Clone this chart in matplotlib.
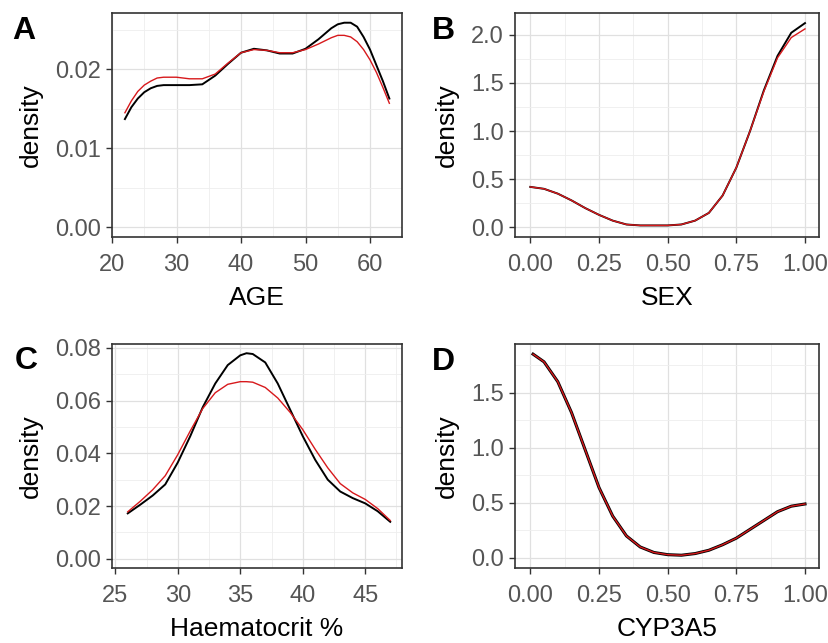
import numpy as np
import matplotlib
matplotlib.use("Agg")
import matplotlib.pyplot as plt
from matplotlib.ticker import FormatStrFormatter, MultipleLocator

# panel A - AGE
age_x = [22, 23, 24, 25, 26, 27, 28, 30, 32, 34, 36, 38, 40, 42, 44, 46, 48,
         50, 52, 54, 55, 56, 57, 58, 59, 60, 61, 62, 63]
age_black = [0.0137, 0.0152, 0.0163, 0.0171, 0.0176, 0.0179, 0.0180, 0.0180,
             0.0180, 0.0181, 0.0192, 0.0207, 0.0221, 0.0226, 0.0224, 0.0220,
             0.0220, 0.0226, 0.0238, 0.0252, 0.0257, 0.0259, 0.0259, 0.0254,
             0.0241, 0.0225, 0.0205, 0.0185, 0.0163]
age_red = [0.0145, 0.0160, 0.0172, 0.0180, 0.0185, 0.0189, 0.0190, 0.0190,
           0.0188, 0.0188, 0.0194, 0.0208, 0.0221, 0.0225, 0.0224, 0.0221,
           0.0221, 0.0225, 0.0232, 0.0240, 0.0243, 0.0243, 0.0241, 0.0235,
           0.0225, 0.0212, 0.0196, 0.0177, 0.0157]

# panel B - SEX
sex_x = [0, 0.05, 0.1, 0.15, 0.2, 0.25, 0.3, 0.35, 0.4, 0.45, 0.5, 0.55, 0.6,
         0.65, 0.7, 0.75, 0.8, 0.85, 0.9, 0.95, 1.0]
sex_black = [0.42, 0.40, 0.35, 0.28, 0.20, 0.13, 0.07, 0.03, 0.02, 0.02, 0.02,
             0.03, 0.07, 0.15, 0.33, 0.62, 1.00, 1.42, 1.78, 2.02, 2.12]
sex_red = [0.42, 0.40, 0.35, 0.28, 0.20, 0.13, 0.07, 0.03, 0.02, 0.02, 0.02,
           0.03, 0.07, 0.15, 0.33, 0.62, 1.00, 1.41, 1.76, 1.97, 2.06]

# panel C - Haematocrit
hct_x = [26, 27, 28, 29, 30, 31, 32, 33, 34, 35, 35.5, 36, 37, 38, 39, 40, 41,
         42, 43, 44, 45, 46, 47]
hct_black = [0.0172, 0.0205, 0.0240, 0.0282, 0.0365, 0.0465, 0.0575, 0.0665,
             0.0735, 0.0772, 0.0780, 0.0777, 0.0745, 0.0665, 0.0565, 0.0465,
             0.0375, 0.0300, 0.0255, 0.0230, 0.0210, 0.0180, 0.0140]
hct_red = [0.0178, 0.0218, 0.0262, 0.0315, 0.0395, 0.0485, 0.0570, 0.0630,
           0.0662, 0.0672, 0.0672, 0.0670, 0.0650, 0.0610, 0.0555, 0.0490,
           0.0415, 0.0345, 0.0285, 0.0250, 0.0225, 0.0190, 0.0145]

# panel D - CYP3A5
cyp_x = [0.01, 0.05, 0.1, 0.15, 0.2, 0.25, 0.3, 0.35, 0.4, 0.45, 0.5, 0.55,
         0.6, 0.65, 0.7, 0.75, 0.8, 0.85, 0.9, 0.95, 1.0]
cyp_black = [1.85, 1.78, 1.60, 1.32, 0.98, 0.64, 0.38, 0.20, 0.10, 0.05, 0.03,
             0.025, 0.04, 0.07, 0.12, 0.18, 0.26, 0.34, 0.42, 0.47, 0.49]
cyp_red = [1.85, 1.78, 1.60, 1.32, 0.98, 0.64, 0.38, 0.20, 0.10, 0.05, 0.03,
           0.025, 0.04, 0.07, 0.12, 0.18, 0.26, 0.34, 0.42, 0.47, 0.49]

plt.rcParams['font.family'] = ['Liberation Sans', 'DejaVu Sans']

W, H = 829, 643
fig = plt.figure(figsize=(W / 100, H / 100), dpi=100)


def make_ax(left, top, right, bottom):
    return fig.add_axes([left / W, 1 - bottom / H, (right - left) / W, (bottom - top) / H])


def style(ax, xlim, ylim, xmaj, ymaj, xfmt, yfmt, xlabel):
    ax.set_xlim(*xlim)
    ax.set_ylim(*ylim)
    ax.xaxis.set_major_locator(MultipleLocator(xmaj))
    ax.yaxis.set_major_locator(MultipleLocator(ymaj))
    ax.xaxis.set_minor_locator(MultipleLocator(xmaj / 2))
    ax.yaxis.set_minor_locator(MultipleLocator(ymaj / 2))
    ax.xaxis.set_major_formatter(FormatStrFormatter(xfmt))
    ax.yaxis.set_major_formatter(FormatStrFormatter(yfmt))
    ax.grid(which='major', color='#e0e0e0', linewidth=0.9)
    ax.grid(which='minor', color='#eeeeee', linewidth=0.6)
    ax.set_axisbelow(True)
    for s in ax.spines.values():
        s.set_color('#333333')
        s.set_linewidth(1.2)
    ax.tick_params(which='major', length=4, width=1, color='#333333',
                   labelsize=17, labelcolor='#555555')
    ax.tick_params(axis='x', which='major', pad=8.5)
    ax.tick_params(axis='y', which='major', pad=4)
    ax.tick_params(which='minor', length=0)
    ax.set_xlabel(xlabel, fontsize=19, labelpad=7)
    ax.set_ylabel('density', fontsize=19, labelpad=9)


axA = make_ax(112, 13, 402, 237)
axA.plot(age_x, age_black, color='black', lw=1.4)
axA.plot(age_x, age_red, color='#d7191c', lw=1.0)
style(axA, (20.0, 64.96), (-0.00123, 0.02713), 10, 0.01, '%d', '%.2f', 'AGE')

axB = make_ax(515, 13, 819, 237)
axB.plot(sex_x, sex_black, color='black', lw=1.4)
axB.plot(sex_x, sex_red, color='#d7191c', lw=1.0)
style(axB, (-0.0557, 1.051), (-0.10, 2.225), 0.25, 0.5, '%.2f', '%.1f', 'SEX')

axC = make_ax(112, 344, 402, 568)
axC.plot(hct_x, hct_black, color='black', lw=1.4)
axC.plot(hct_x, hct_red, color='#d7191c', lw=1.0)
style(axC, (24.74, 47.94), (-0.00353, 0.0815), 5, 0.02, '%d', '%.2f', 'Haematocrit %')

axD = make_ax(515, 344, 819, 568)
axD.plot(cyp_x, cyp_black, color='black', lw=2.2)
axD.plot(cyp_x, cyp_red, color='#d7191c', lw=1.0)
style(axD, (-0.0557, 1.051), (-0.091, 1.942), 0.25, 0.5, '%.2f', '%.1f', 'CYP3A5')

for lab, px, py in [('A', 12, 31), ('B', 432, 31), ('C', 15, 361), ('D', 432, 362)]:
    fig.text(px / W, 1 - py / H, lab, fontsize=23, fontweight='bold', va='center', ha='left')

fig.savefig('out.png', dpi=100, facecolor='white')
